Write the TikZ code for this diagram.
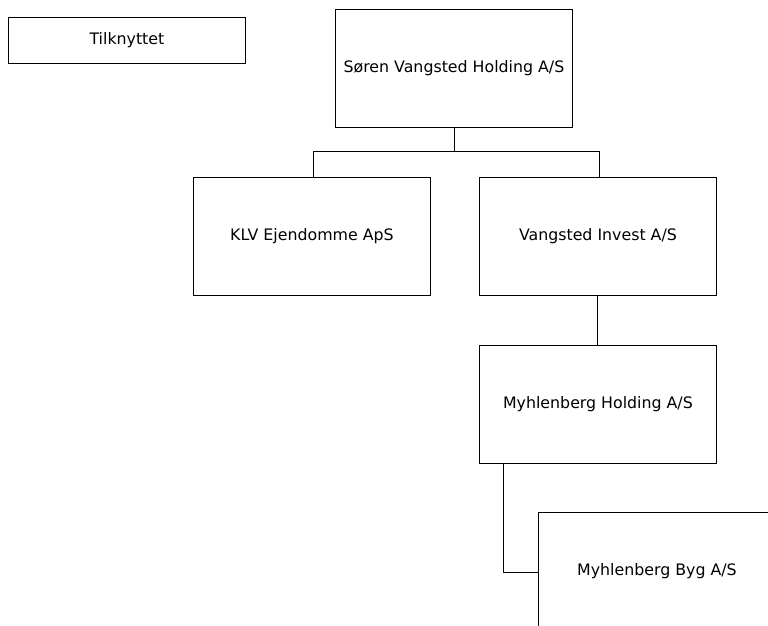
\documentclass[tikz,border=0pt]{standalone}
\usepackage{fontspec}
\setmainfont{DejaVu Sans}
\begin{document}
\begin{tikzpicture}[x=1pt,y=-1pt,
  box/.style={draw=black, line width=0.9pt, fill=white, minimum width=237pt, minimum height=118pt, inner sep=0pt, anchor=north west, font=\fontsize{15.8}{17}\selectfont},
  link/.style={draw=black, line width=0.9pt}]
\useasboundingbox (0,0) rectangle (768,626);
\begin{scope}
\clip (0,0) rectangle (768,626);
\node[box, minimum height=46pt] (tilk) at (8,17) {Tilknyttet};
\node[box] (soren) at (335,9) {Søren Vangsted Holding A/S};
\node[box] (klv) at (193,177) {KLV Ejendomme ApS};
\node[box] (invest) at (479,177) {Vangsted Invest A/S};
\node[box] (mholding) at (479,345) {Myhlenberg Holding A/S};
\node[box] (byg) at (538,512) {Myhlenberg Byg A/S};
\coordinate (bus) at (0,151);
\draw[link] (soren.south) -- (soren.south |- bus);
\draw[link] (klv.north -| 313,0) -- (313,151) -- (599,151) -- (599,177);
\draw[link] (invest.south -| 597,0) -- (mholding.north -| 597,0);
\draw[link] (mholding.south -| 503,0) -- (503,572) -- (byg.west |- 0,572);
\end{scope}
\end{tikzpicture}
\end{document}
